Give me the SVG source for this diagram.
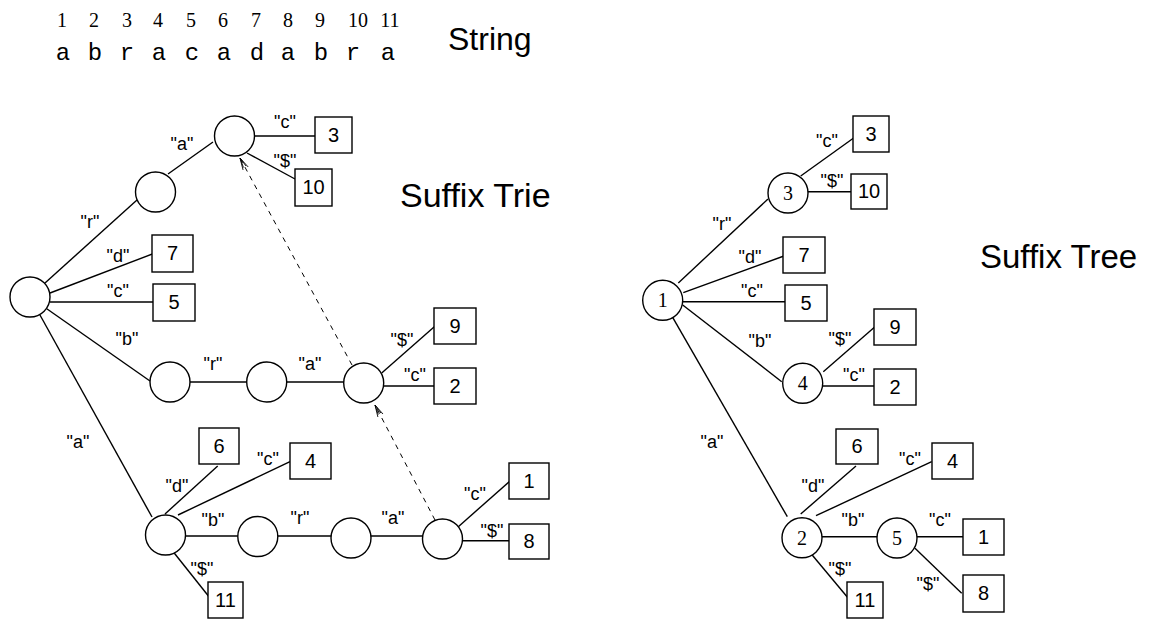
<svg xmlns="http://www.w3.org/2000/svg" width="1151" height="619" viewBox="0 0 1151 619">
<defs>
<style>
.e{stroke:#000;stroke-width:1.4;fill:none}
.d{stroke:#000;stroke-width:1;fill:none;stroke-dasharray:5 5}
.n{fill:#fff;stroke:#000;stroke-width:1.4}
.lb{font-family:"Liberation Sans",Arial,sans-serif;font-size:18px;text-anchor:middle;fill:#000}
.bx{font-family:"Liberation Sans",Arial,sans-serif;font-size:20px;text-anchor:middle;fill:#000}
.cn{font-family:"Liberation Serif","Times New Roman",serif;font-size:20px;text-anchor:middle;fill:#000}
.num{font-family:"Liberation Serif","Times New Roman",serif;font-size:20px;text-anchor:middle;fill:#000}
.chr{font-family:"Liberation Mono","Courier New",monospace;font-size:24px;text-anchor:middle;fill:#000}
.ttl{font-family:"Liberation Sans",Arial,sans-serif;fill:#000}
</style>
<marker id="arr" viewBox="0 0 12 8" refX="12" refY="4" markerWidth="12" markerHeight="8" markerUnits="userSpaceOnUse" orient="auto">
<path d="M0,1 L12,4 L0,7 M2,2.5 L12,4 L2,5.5" fill="none" stroke="#000" stroke-width="0.8"/>
</marker>
</defs>
<rect width="1151" height="619" fill="#fff"/>

<g id="string">
<text class="num" x="62" y="27">1</text>
<text class="num" x="94" y="27">2</text>
<text class="num" x="127" y="27">3</text>
<text class="num" x="158" y="27">4</text>
<text class="num" x="191" y="27">5</text>
<text class="num" x="223" y="27">6</text>
<text class="num" x="256" y="27">7</text>
<text class="num" x="288" y="27">8</text>
<text class="num" x="320" y="27">9</text>
<text class="num" x="358" y="27">10</text>
<text class="num" x="390" y="27">11</text>
<text class="chr" x="63" y="60">a</text>
<text class="chr" x="95" y="60">b</text>
<text class="chr" x="127" y="60">r</text>
<text class="chr" x="159" y="60">a</text>
<text class="chr" x="192" y="60">c</text>
<text class="chr" x="224" y="60">a</text>
<text class="chr" x="257" y="60">d</text>
<text class="chr" x="288" y="60">a</text>
<text class="chr" x="321" y="60">b</text>
<text class="chr" x="353" y="60">r</text>
<text class="chr" x="388" y="60">a</text>
<text class="ttl" x="448" y="50" font-size="32">String</text>
</g>
<text id="title-trie" class="ttl" x="400" y="207" font-size="34">Suffix Trie</text>
<text id="title-tree" class="ttl" x="980" y="268" font-size="33">Suffix Tree</text>

<g id="connectors">
<!-- trie -->
<line class="e" x1="45" y1="283" x2="137" y2="200"/>
<line class="e" x1="168" y1="174" x2="213" y2="142"/>
<line class="e" x1="255" y1="136" x2="315" y2="136"/>
<line class="e" x1="247" y1="153" x2="295" y2="179"/>
<line class="e" x1="50" y1="293" x2="155" y2="253"/>
<line class="e" x1="50" y1="302" x2="153" y2="302"/>
<line class="e" x1="46.4" y1="308.5" x2="150" y2="381"/>
<line class="e" x1="39.7" y1="314.5" x2="152" y2="517"/>
<line class="e" x1="190" y1="382" x2="247" y2="382"/>
<line class="e" x1="286.7" y1="382" x2="344" y2="382"/>
<line class="e" x1="381.7" y1="373" x2="434.3" y2="326.7"/>
<line class="e" x1="383.7" y1="386" x2="434" y2="386"/>
<line class="e" x1="165" y1="514" x2="217.7" y2="466"/>
<line class="e" x1="178" y1="515" x2="290" y2="461.7"/>
<line class="e" x1="185.5" y1="536" x2="240" y2="536"/>
<line class="e" x1="277.5" y1="536" x2="332" y2="536"/>
<line class="e" x1="370.7" y1="536" x2="423.3" y2="536"/>
<line class="e" x1="458.3" y1="526.7" x2="510" y2="481"/>
<line class="e" x1="461.7" y1="540.7" x2="509" y2="540.7"/>
<line class="e" x1="174" y1="552.7" x2="210" y2="598"/>
<line class="d" x1="435" y1="520" x2="375" y2="405" marker-end="url(#arr)"/>
<line class="d" x1="352" y1="365" x2="240" y2="158" marker-end="url(#arr)"/>
<!-- tree -->
<line class="e" x1="678.3" y1="283" x2="768" y2="199"/>
<line class="e" x1="800.7" y1="176" x2="853.3" y2="138.3"/>
<line class="e" x1="808" y1="191.7" x2="851" y2="191.7"/>
<line class="e" x1="683.3" y1="292.7" x2="786.7" y2="255"/>
<line class="e" x1="682.7" y1="301.7" x2="785" y2="301.7"/>
<line class="e" x1="682.7" y1="305" x2="781.7" y2="381.7"/>
<line class="e" x1="823.3" y1="371.7" x2="875" y2="326.7"/>
<line class="e" x1="822.7" y1="386" x2="875" y2="386"/>
<line class="e" x1="672.8" y1="317.6" x2="787.3" y2="516.7"/>
<line class="e" x1="800.7" y1="514" x2="856" y2="466"/>
<line class="e" x1="816" y1="515.7" x2="931.7" y2="461.7"/>
<line class="e" x1="822" y1="536.7" x2="877" y2="536.7"/>
<line class="e" x1="917" y1="536.7" x2="963" y2="536.7"/>
<line class="e" x1="915" y1="548.3" x2="961.7" y2="593.3"/>
<line class="e" x1="810.7" y1="553.3" x2="848.3" y2="598.3"/>
</g>

<g id="edge-labels">
<text class="lb" x="182" y="150">"a"</text>
<text class="lb" x="90" y="228">"r"</text>
<text class="lb" x="285" y="128">"c"</text>
<text class="lb" x="285" y="167">"$"</text>
<text class="lb" x="118" y="262">"d"</text>
<text class="lb" x="118" y="297">"c"</text>
<text class="lb" x="127" y="345">"b"</text>
<text class="lb" x="213" y="370">"r"</text>
<text class="lb" x="310" y="370">"a"</text>
<text class="lb" x="402" y="346">"$"</text>
<text class="lb" x="415" y="381">"c"</text>
<text class="lb" x="78" y="448">"a"</text>
<text class="lb" x="177" y="492">"d"</text>
<text class="lb" x="268" y="465">"c"</text>
<text class="lb" x="213" y="526">"b"</text>
<text class="lb" x="300" y="524">"r"</text>
<text class="lb" x="393" y="524">"a"</text>
<text class="lb" x="475" y="500">"c"</text>
<text class="lb" x="492" y="537">"$"</text>
<text class="lb" x="202" y="575">"$"</text>

<text class="lb" x="722" y="230">"r"</text>
<text class="lb" x="827" y="147">"c"</text>
<text class="lb" x="832" y="187">"$"</text>
<text class="lb" x="750" y="263">"d"</text>
<text class="lb" x="752" y="297">"c"</text>
<text class="lb" x="760" y="347">"b"</text>
<text class="lb" x="840" y="345">"$"</text>
<text class="lb" x="854" y="381">"c"</text>
<text class="lb" x="712" y="448">"a"</text>
<text class="lb" x="813" y="492">"d"</text>
<text class="lb" x="910" y="465">"c"</text>
<text class="lb" x="853" y="526">"b"</text>
<text class="lb" x="940" y="526">"c"</text>
<text class="lb" x="928" y="590">"$"</text>
<text class="lb" x="840" y="575">"$"</text>
</g>

<!-- trie nodes -->
<g id="trie-root"><circle class="n" cx="30" cy="297" r="20"/></g>
<g id="trie-r"><circle class="n" cx="155.5" cy="192" r="20"/></g>
<g id="trie-ra"><circle class="n" cx="234.5" cy="136" r="20"/></g>
<g id="trie-b"><circle class="n" cx="170" cy="382" r="20"/></g>
<g id="trie-br"><circle class="n" cx="266.7" cy="382" r="20"/></g>
<g id="trie-bra"><circle class="n" cx="363.7" cy="383" r="20"/></g>
<g id="trie-a"><circle class="n" cx="165.5" cy="535" r="20"/></g>
<g id="trie-ab"><circle class="n" cx="257.8" cy="536.5" r="20"/></g>
<g id="trie-abr"><circle class="n" cx="351" cy="538" r="20"/></g>
<g id="trie-abra"><circle class="n" cx="442.5" cy="539" r="20"/></g>

<g id="trie-leaf3"><rect class="n" x="315" y="117" width="37" height="36"/><text class="bx" x="333.5" y="142">3</text></g>
<g id="trie-leaf10"><rect class="n" x="295" y="169" width="37" height="37"/><text class="bx" x="313.5" y="194">10</text></g>
<g id="trie-leaf7"><rect class="n" x="152" y="235" width="41" height="37"/><text class="bx" x="172.5" y="260">7</text></g>
<g id="trie-leaf5"><rect class="n" x="153" y="284" width="42" height="37"/><text class="bx" x="174" y="309">5</text></g>
<g id="trie-leaf9"><rect class="n" x="434" y="308" width="42" height="36"/><text class="bx" x="455" y="333">9</text></g>
<g id="trie-leaf2"><rect class="n" x="434" y="368" width="42" height="36"/><text class="bx" x="455" y="393">2</text></g>
<g id="trie-leaf6"><rect class="n" x="199" y="428" width="40" height="36"/><text class="bx" x="219" y="453">6</text></g>
<g id="trie-leaf4"><rect class="n" x="290" y="443" width="41" height="36"/><text class="bx" x="310.5" y="468">4</text></g>
<g id="trie-leaf1"><rect class="n" x="509" y="463" width="40" height="36"/><text class="bx" x="529" y="488">1</text></g>
<g id="trie-leaf8"><rect class="n" x="509" y="524" width="40" height="35"/><text class="bx" x="529" y="548">8</text></g>
<g id="trie-leaf11"><rect class="n" x="208" y="582" width="35" height="36"/><text class="bx" x="225.5" y="607">11</text></g>

<!-- tree nodes -->
<g id="tree-n1"><circle class="n" cx="662.7" cy="300.3" r="20"/><text class="cn" x="662.7" y="307.3">1</text></g>
<g id="tree-n3"><circle class="n" cx="788" cy="193" r="20"/><text class="cn" x="788" y="200">3</text></g>
<g id="tree-n4"><circle class="n" cx="802.7" cy="383.3" r="20"/><text class="cn" x="802.7" y="390.3">4</text></g>
<g id="tree-n2"><circle class="n" cx="802" cy="537.8" r="20"/><text class="cn" x="802" y="544.8">2</text></g>
<g id="tree-n5"><circle class="n" cx="897" cy="538" r="20"/><text class="cn" x="897" y="545">5</text></g>

<g id="tree-leaf3"><rect class="n" x="853" y="116" width="36" height="36"/><text class="bx" x="871" y="141">3</text></g>
<g id="tree-leaf10"><rect class="n" x="851" y="174" width="36" height="35"/><text class="bx" x="869" y="198">10</text></g>
<g id="tree-leaf7"><rect class="n" x="783" y="237" width="42" height="36"/><text class="bx" x="804" y="262">7</text></g>
<g id="tree-leaf5"><rect class="n" x="785" y="285" width="42" height="36"/><text class="bx" x="806" y="310">5</text></g>
<g id="tree-leaf9"><rect class="n" x="874" y="309" width="42" height="36"/><text class="bx" x="895" y="334">9</text></g>
<g id="tree-leaf2"><rect class="n" x="874" y="369" width="42" height="36"/><text class="bx" x="895" y="394">2</text></g>
<g id="tree-leaf6"><rect class="n" x="836" y="429" width="42" height="35"/><text class="bx" x="857" y="453">6</text></g>
<g id="tree-leaf4"><rect class="n" x="932" y="443" width="41" height="36"/><text class="bx" x="952.5" y="468">4</text></g>
<g id="tree-leaf1"><rect class="n" x="963" y="519" width="41" height="36"/><text class="bx" x="983.5" y="544">1</text></g>
<g id="tree-leaf8"><rect class="n" x="963" y="575" width="41" height="37"/><text class="bx" x="983.5" y="600">8</text></g>
<g id="tree-leaf11"><rect class="n" x="847" y="582" width="36" height="36"/><text class="bx" x="865" y="607">11</text></g>
</svg>
